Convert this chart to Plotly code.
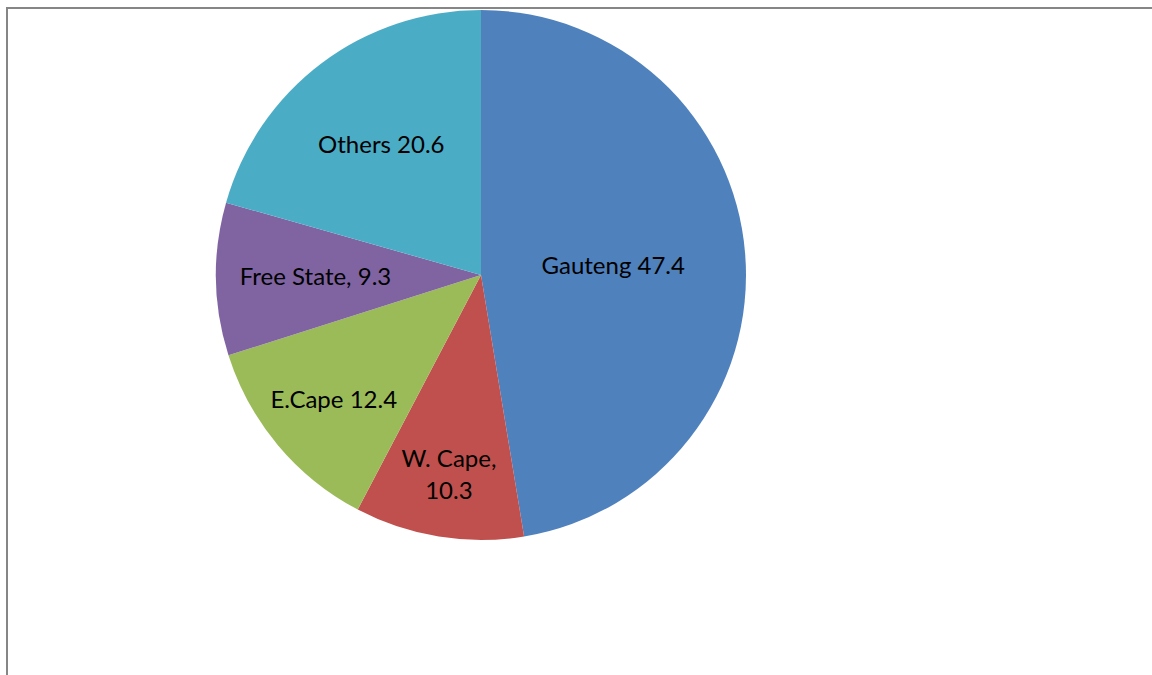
import plotly.graph_objects as go

labels = ["Gauteng", "W. Cape", "E.Cape", "Free State", "Others"]
values = [47.4, 10.3, 12.4, 9.3, 20.6]
text_labels = ["Gauteng 47.4", "W. Cape,<br>10.3", "E.Cape 12.4", "Free State, 9.3", "Others 20.6"]
colors = ["#4F81BD", "#C0504D", "#9BBB59", "#8064A2", "#4BACC6"]

W, H = 1152, 675
cx, cy, r = 481, 275, 265

fig = go.Figure(go.Pie(
    labels=labels,
    values=values,
    text=text_labels,
    textinfo="text",
    textposition="inside",
    insidetextorientation="horizontal",
    sort=False,
    direction="clockwise",
    rotation=0,
    marker=dict(colors=colors, line=dict(color="white", width=0)),
    textfont=dict(family="Lato, Open Sans, sans-serif", size=24, color="black"),
    hoverinfo="label+value",
    domain=dict(x=[(cx - r) / W, (cx + r) / W], y=[1 - (cy + r) / H, 1 - (cy - r) / H]),
))

fig.update_layout(
    width=W, height=H,
    margin=dict(l=0, r=0, t=0, b=0),
    paper_bgcolor="white",
    plot_bgcolor="white",
    showlegend=False,
    uniformtext=dict(minsize=24, mode="show"),
    shapes=[dict(type="rect", xref="paper", yref="paper",
                 x0=7 / W, x1=1.05, y0=-0.05, y1=1 - 8 / H,
                 line=dict(color="#868686", width=2), fillcolor="rgba(0,0,0,0)")],
)

fig.write_html("out.html", config={"displayModeBar": False},
               post_script="document.body.style.margin='0';")
